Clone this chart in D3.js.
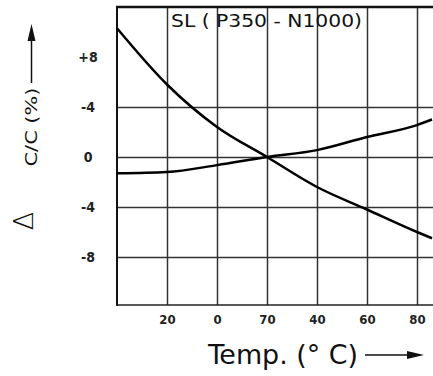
<!DOCTYPE html>
<html>
<head>
<meta charset="utf-8">
<script src="https://cdn.jsdelivr.net/npm/d3@7"></script>
<style>
  body { margin: 0; background: #fff; }
  svg { display: block; }
  text { font-family: "DejaVu Sans", sans-serif; font-stretch: condensed; fill: #111; }
</style>
</head>
<body>
<svg width="433" height="376"></svg>
<script>
// data (% change vs temperature)
var temps = [-40, -20, 0, 20, 40, 60, 80, 86];
var n1000 = [10.3, 5.8, 2.4, 0, -2.4, -4.2, -6.0, -6.5];
var p350 = [-1.3, -1.2, -0.65, 0, 0.55, 1.6, 2.55, 3.0];

var xTicks = [-20, 0, 20, 40, 60, 80];
var xTickLabels = ["20", "0", "70", "40", "60", "80"];
var yTicks = [8, 4, 0, -4, -8];
var yTickLabels = ["+8", "-4", "0", "-4", "-8"];
var yGrid = [4, 0, -4, -8];

var svg = d3.select("svg");

// scales: 50px per 20 degC, 12.5px per 1 %
var x = d3.scaleLinear().domain([-40, 86.4]).range([117, 433]);
var y = d3.scaleLinear().domain([-11.84, 12]).range([305, 7]);

// vertical grid + x labels
var xAxis = svg.append("g")
    .attr("transform", "translate(0,305)")
    .call(d3.axisBottom(x)
        .tickValues(xTicks)
        .tickFormat(function(d, i) { return xTickLabels[i]; })
        .tickSize(-298)
        .tickPadding(10));
xAxis.select(".domain").remove();
xAxis.selectAll("line").attr("stroke", "#333").attr("stroke-width", 1.5);
xAxis.selectAll("text").attr("font-size", 13).attr("font-weight", "bold").style("fill", "#222");

// horizontal grid
var grid = svg.append("g")
    .attr("transform", "translate(117,0)")
    .call(d3.axisLeft(y).tickValues(yGrid).tickFormat("").tickSize(-316));
grid.select(".domain").remove();
grid.selectAll("line").attr("stroke", "#333").attr("stroke-width", 1.5);

// y labels
var yAxis = svg.append("g")
    .attr("transform", "translate(117,0)")
    .call(d3.axisLeft(y)
        .tickValues(yTicks)
        .tickFormat(function(d, i) { return yTickLabels[i]; })
        .tickSize(0));
yAxis.select(".domain").remove();
yAxis.selectAll("text")
    .attr("x", -29)
    .attr("text-anchor", "middle")
    .attr("font-size", 14)
    .attr("font-weight", "bold")
    .style("fill", "#222");

// frame: top, left, bottom
svg.append("line").attr("x1", 116).attr("x2", 433).attr("y1", 7).attr("y2", 7)
    .attr("stroke", "#111").attr("stroke-width", 2.5);
svg.append("line").attr("x1", 117).attr("x2", 117).attr("y1", 6).attr("y2", 306)
    .attr("stroke", "#111").attr("stroke-width", 2);
svg.append("line").attr("x1", 116).attr("x2", 433).attr("y1", 305).attr("y2", 305)
    .attr("stroke", "#222").attr("stroke-width", 1.5);

// title
svg.append("text")
    .attr("x", 171).attr("y", 27)
    .attr("font-size", 17)
    .attr("textLength", 191)
    .attr("lengthAdjust", "spacingAndGlyphs")
    .text("SL ( P350 - N1000)");

// curves
var line = d3.line()
    .x(function(d) { return x(d[0]); })
    .y(function(d) { return y(d[1]); })
    .curve(d3.curveMonotoneX);

[n1000, p350].forEach(function(s) {
    svg.append("path")
        .datum(temps.map(function(t, i) { return [t, s[i]]; }))
        .attr("d", line)
        .attr("fill", "none")
        .attr("stroke", "#000")
        .attr("stroke-width", 2.5);
});

// y title with arrow
svg.append("text")
    .attr("transform", "translate(37,127) rotate(-90)")
    .attr("text-anchor", "middle")
    .attr("font-size", 16)
    .attr("textLength", 79)
    .attr("lengthAdjust", "spacingAndGlyphs")
    .text("C/C   (%)");
svg.append("line").attr("x1", 31.5).attr("x2", 31.5).attr("y1", 83).attr("y2", 36)
    .attr("stroke", "#111").attr("stroke-width", 1.5);
svg.append("path").attr("d", "M31.5,24 L27.5,41 L35.5,41 Z").attr("fill", "#111");
svg.append("text")
    .attr("transform", "translate(33,221) rotate(-90)")
    .attr("text-anchor", "middle")
    .attr("font-size", 27)
    .attr("font-weight", 200)
    .style("font-stretch", "normal")
    .text("Δ");

// x title with arrow
svg.append("text")
    .attr("x", 208).attr("y", 364)
    .attr("font-size", 27)
    .attr("textLength", 150)
    .attr("lengthAdjust", "spacingAndGlyphs")
    .text("Temp. (° C)");
svg.append("line").attr("x1", 365).attr("x2", 410).attr("y1", 355).attr("y2", 355)
    .attr("stroke", "#111").attr("stroke-width", 1.5);
svg.append("path").attr("d", "M424,355 L407,351 L407,359 Z").attr("fill", "#111");
</script>
</body>
</html>
